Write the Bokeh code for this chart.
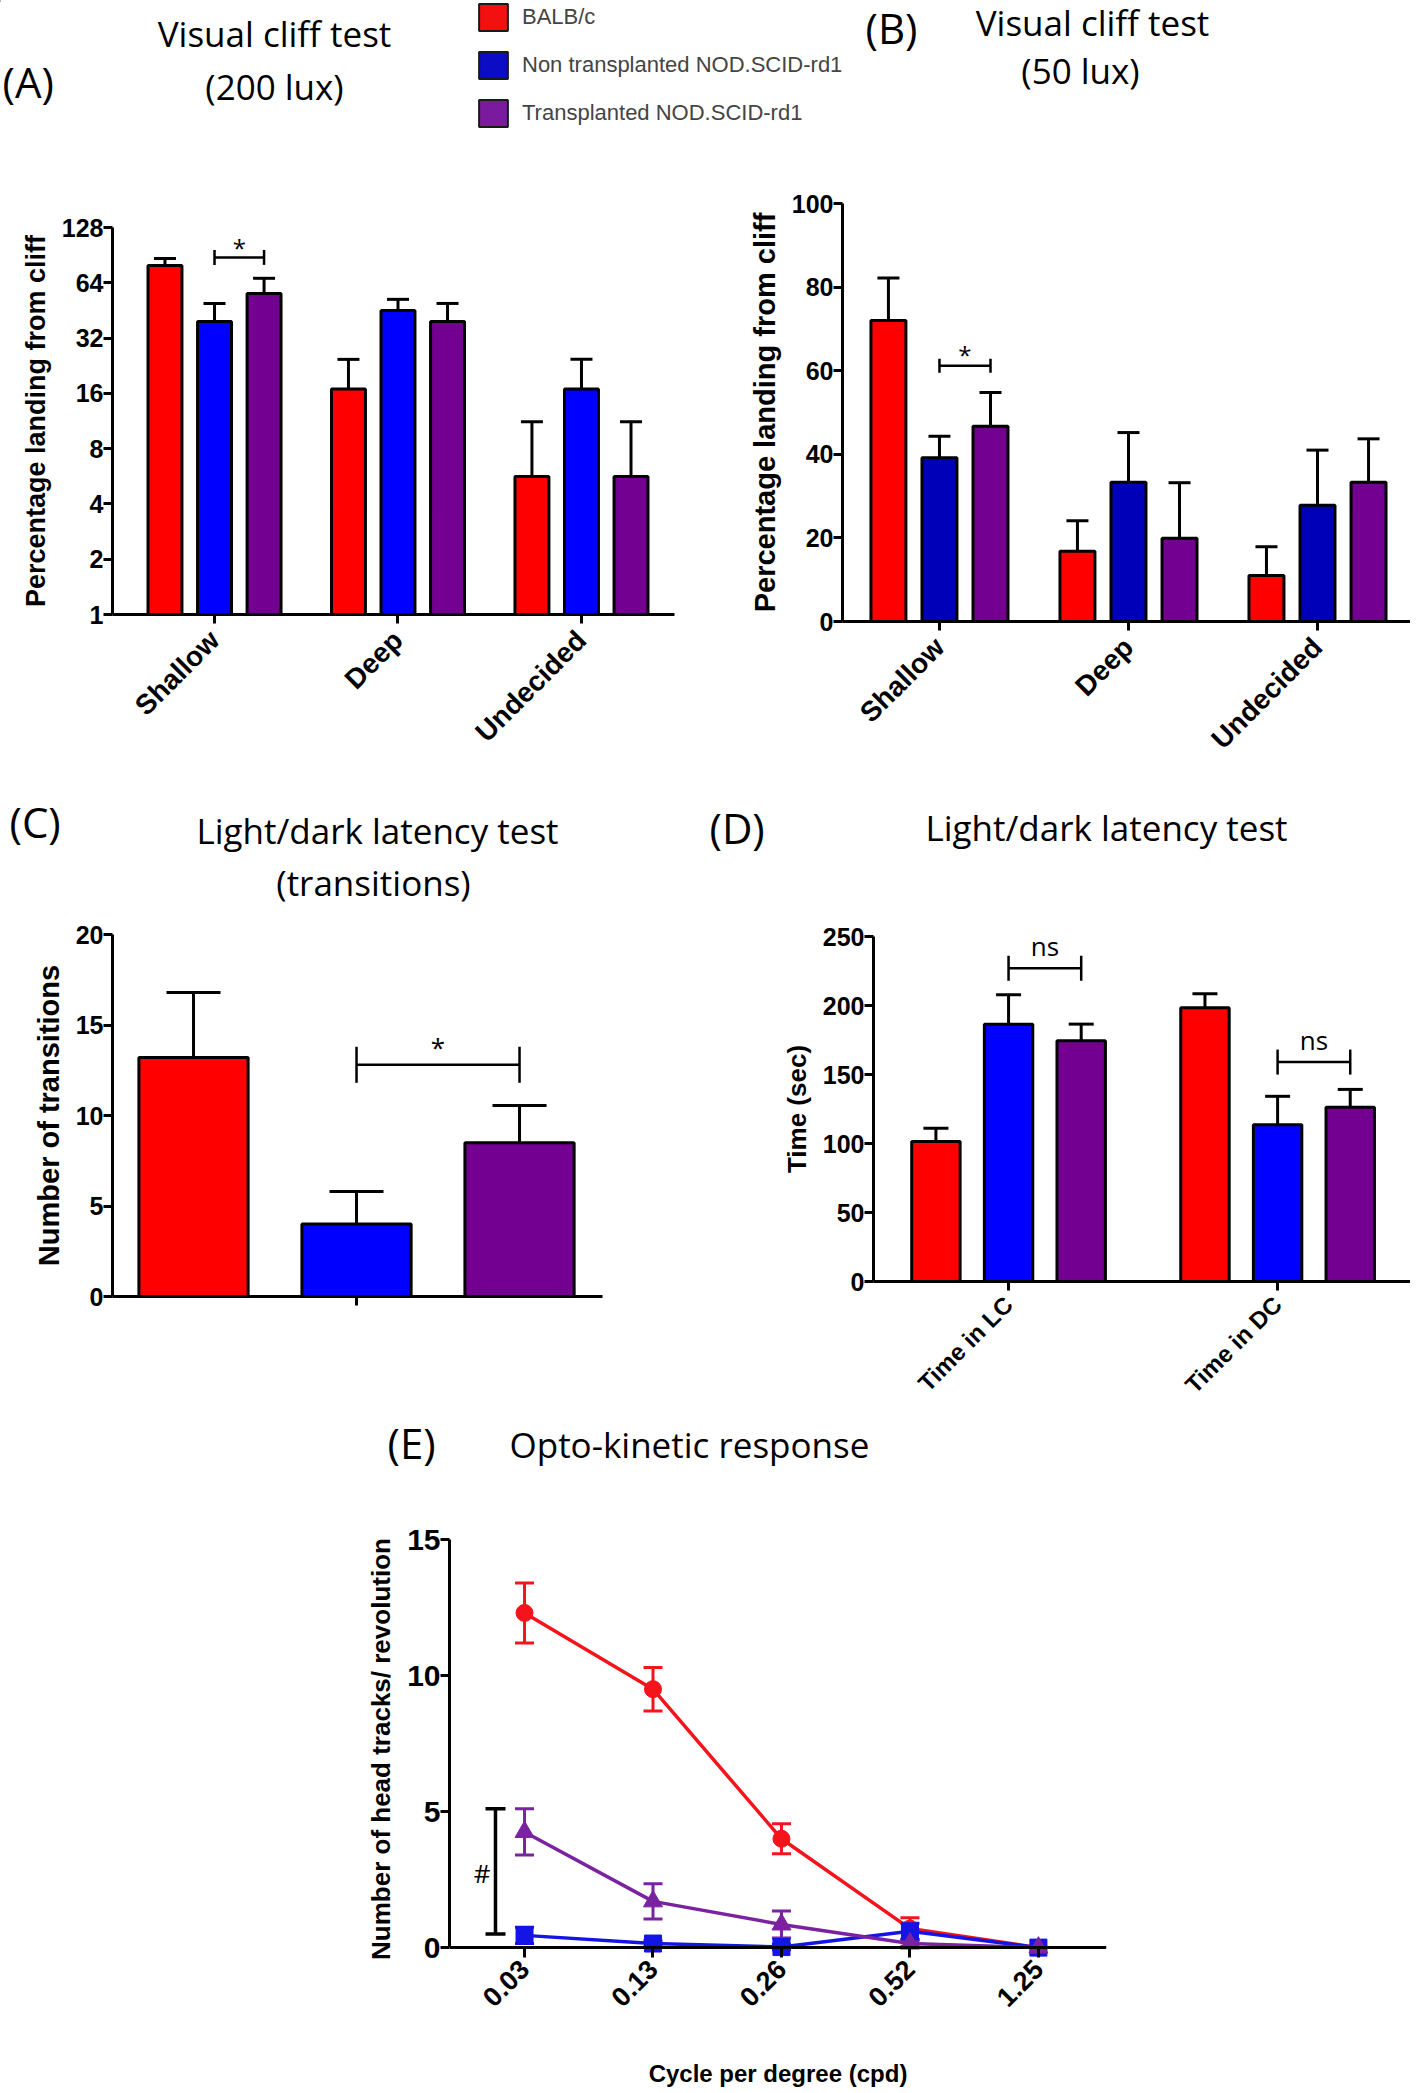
import math
import numpy as np
from bokeh.plotting import figure
from bokeh.models import (Range1d, FixedTicker, Whisker, TeeHead, ColumnDataSource,
                          Label, Legend, LegendItem, BasicTickFormatter, LinearAxis)
from bokeh.layouts import column, row
from bokeh.embed import file_html
from bokeh.resources import INLINE

# ------------------------------------------------------------------ data
groups = ["BALB/c", "Non transplanted NOD.SCID-rd1", "Transplanted NOD.SCID-rd1"]

cliff_cats = ["Shallow", "Deep", "Undecided"]
c200_balb = [79.5, 16.9, 5.65]
c200_balb_sem = [7.3, 7.6, 5.55]
c200_nontx = [39.4, 45.2, 16.9]
c200_nontx_sem = [10.0, 6.8, 7.6]
c200_tx = [56.0, 39.4, 5.65]
c200_tx_sem = [11.7, 10.0, 5.55]
c200_ticks = [1, 2, 4, 8, 16, 32, 64, 128]
c200_sig = [88.0]
c50_balb = [72.0, 16.8, 11.0]
c50_balb_sem = [10.2, 7.3, 6.9]
c50_nontx = [39.2, 33.3, 27.8]
c50_nontx_sem = [5.1, 11.9, 13.2]
c50_tx = [46.7, 19.9, 33.3]
c50_tx_sem = [8.1, 13.3, 10.4]
c50_ticks = [0, 20, 40, 60, 80, 100]
c50_sig = [61.2]
trans_vals = [13.2, 4.0, 8.5]
trans_sem = [3.6, 1.8, 2.05]
trans_ticks = [0, 5, 10, 15, 20]
trans_sig = [12.8]
ld_cats = ["Time in LC", "Time in DC"]
ld_balb = [101.4, 198.3]
ld_balb_sem = [9.6, 10.3]
ld_nontx = [186.5, 113.5]
ld_nontx_sem = [21.2, 20.7]
ld_tx = [174.4, 126.2]
ld_tx_sem = [12.1, 13.0]
ld_ticks = [0, 50, 100, 150, 200, 250]
ld_sig = [227.0, 159.0]
okr_cpd = ["0.03", "0.13", "0.26", "0.52", "1.25"]
okr_balb = [12.3, 9.5, 4.0, 0.7, 0.0]
okr_balb_sem = [1.1, 0.8, 0.55, 0.4, 0.0]
okr_nontx = [0.45, 0.15, 0.02, 0.6, 0.0]
okr_nontx_sem = [0.3, 0.1, 0.1, 0.3, 0.0]
okr_tx = [4.25, 1.7, 0.85, 0.15, 0.0]
okr_tx_sem = [0.85, 0.65, 0.5, 0.1, 0.0]
okr_ticks = [0, 5, 10, 15]
okr_hash = [0.5, 5.1]

# ------------------------------------------------------------------ style
RED = "#ff0000"
BLUE = "#0000ff"
BLUE_B = "#0000b8"
PURPLE = "#730090"
E_RED = "#f5141c"
E_BLUE = "#1414e6"
E_PURPLE = "#7a22a0"
LEGEND_COLORS = ["#f21010", "#0c0cc4", "#7a1a9e"]
TITLE_FONT = "Open Sans"
AX_FONT = "Liberation Sans"
TSIZE = 35
PSIZE = 42


def style_axis(ax):
    ax.axis_line_width = 3
    ax.axis_line_color = "black"
    ax.major_tick_line_width = 3
    ax.major_tick_line_color = "black"
    ax.major_tick_out = 9
    ax.major_tick_in = 0
    ax.minor_tick_line_color = None
    ax.major_label_text_font = AX_FONT
    ax.major_label_text_font_style = "bold"
    ax.major_label_text_color = "black"
    ax.axis_label_text_font = AX_FONT
    ax.axis_label_text_font_style = "bold"
    ax.axis_label_text_color = "black"


def make_fig(canvas, frame, x_range, y_range, y_axis_type="linear"):
    cx0, cy0, cx1, cy1 = canvas
    fx0, fy0, fx1, fy1 = frame
    p = figure(width=cx1 - cx0, height=cy1 - cy0, x_range=x_range, y_range=y_range,
               y_axis_type=y_axis_type, output_backend="svg", toolbar_location=None,
               title=None,
               min_border_left=fx0 - cx0, min_border_right=cx1 - fx1,
               min_border_top=fy0 - cy0, min_border_bottom=cy1 - fy1)
    p.outline_line_color = None
    p.grid.visible = False
    for ax in p.axis:
        style_axis(ax)
    return p


def header(canvas):
    cx0, cy0, cx1, cy1 = canvas
    h = figure(width=cx1 - cx0, height=cy1 - cy0, x_range=Range1d(cx0, cx1),
               y_range=Range1d(cy1, cy0), min_border=0, x_axis_location=None,
               y_axis_location=None, output_backend="svg", toolbar_location=None,
               title=None)
    h.outline_line_color = None
    h.grid.visible = False
    return h


def htext(h, x, y, text, size, align="center"):
    h.add_layout(Label(x=x, y=y, text=text, text_font=TITLE_FONT,
                       text_font_size=f"{size}px", text_align=align,
                       text_baseline="middle", text_color="black"))


def grouped_bars(p, series, sems, colors, offsets, width, bottom, cap):
    for vals, sem, col, off in zip(series, sems, colors, offsets):
        x = np.arange(len(vals)) + off
        v = np.array(vals, dtype=float)
        src = ColumnDataSource(dict(x=x, top=v, upper=v + np.array(sem)))
        p.vbar(x="x", top="top", bottom=bottom, width=width, source=src,
               fill_color=col, line_color="black", line_width=3)
        p.add_layout(Whisker(source=src, base="x", lower="top", upper="upper",
                             dimension="height", line_width=3, line_color="black",
                             upper_head=TeeHead(size=cap, line_width=3, line_color="black"),
                             lower_head=None))


def bracket(p, y, x0, x1, cap, text, ty, size=26):
    src = ColumnDataSource(dict(y=[y], x0=[x0], x1=[x1]))
    p.add_layout(Whisker(source=src, base="y", lower="x0", upper="x1", dimension="width",
                         line_width=2.5, line_color="black",
                         upper_head=TeeHead(size=cap, line_width=2.5, line_color="black"),
                         lower_head=TeeHead(size=cap, line_width=2.5, line_color="black")))
    p.add_layout(Label(x=(x0 + x1) / 2, y=ty, text=text, text_font=TITLE_FONT,
                       text_font_size=f"{size}px", text_align="center",
                       text_baseline="middle", text_color="black"))


OFF = 0.27
BW = 0.185

# ------------------------------------------------------------------ header 1
h1 = header((0, 0, 1410, 150))
htext(h1, 2, 81, "(A)", PSIZE, align="left")
htext(h1, 274, 33, "Visual cliff test", TSIZE)
htext(h1, 274, 86, "(200 lux)", TSIZE)
htext(h1, 865, 27, "(B)", PSIZE, align="left")
htext(h1, 1092, 22, "Visual cliff test", TSIZE)
htext(h1, 1080, 70, "(50 lux)", TSIZE)
# legend: one swatch renderer per group, kept outside the (empty) header frame range
leg_items = []
for name, col in zip(groups, LEGEND_COLORS):
    sw = ColumnDataSource(dict(x=[-5000.0], top=[0.0], group=[name]))
    r = h1.vbar(x="x", top="top", width=1, source=sw, fill_color=col,
                line_color="#1a1a1a", line_width=2)
    leg_items.append(LegendItem(label=name, renderers=[r]))
leg = Legend(items=leg_items, location=(475, 20), orientation="vertical",
             glyph_width=36, glyph_height=34, label_standoff=11, spacing=14,
             padding=0, margin=0, border_line_color=None, background_fill_alpha=0,
             label_text_font=AX_FONT, label_text_font_size="22px",
             label_height=34)
h1.add_layout(leg)

# ------------------------------------------------------------------ (A)
pa = make_fig((0, 150, 709, 785), (112, 227, 674, 614),
              Range1d(-0.556, 2.507), Range1d(1, 128), y_axis_type="log")
grouped_bars(pa, [c200_balb, c200_nontx, c200_tx],
             [c200_balb_sem, c200_nontx_sem, c200_tx_sem],
             [RED, BLUE, PURPLE], [-OFF, 0, OFF], BW, 1, 22)
bracket(pa, c200_sig[0], 0, OFF, 15, "*", c200_sig[0] * 1.13, 24)
pa.yaxis.ticker = FixedTicker(ticks=c200_ticks)
pa.yaxis.formatter = BasicTickFormatter(use_scientific=False)
pa.yaxis.major_label_text_font_size = "25px"
pa.yaxis.major_label_standoff = 0
pa.yaxis.axis_label = "Percentage landing from cliff"
pa.yaxis.axis_label_text_font_size = "27px"
pa.yaxis.axis_label_standoff = 8
pa.xaxis.ticker = FixedTicker(ticks=list(range(len(cliff_cats))))
pa.xaxis.major_label_overrides = {i: c for i, c in enumerate(cliff_cats)}
pa.xaxis.major_label_orientation = math.pi / 4
pa.xaxis.major_label_text_font_size = "28px"
pa.xaxis.major_label_standoff = 12

# ------------------------------------------------------------------ (B)
pb = make_fig((709, 150, 1410, 785), (842, 203, 1410, 621),
              Range1d(-0.513, 2.492), Range1d(0, 100))
grouped_bars(pb, [c50_balb, c50_nontx, c50_tx],
             [c50_balb_sem, c50_nontx_sem, c50_tx_sem],
             [RED, BLUE_B, PURPLE], [-OFF, 0, OFF], BW, 0, 22)
bracket(pb, c50_sig[0], 0, OFF, 14, "*", c50_sig[0] + 2.6, 24)
pb.yaxis.ticker = FixedTicker(ticks=c50_ticks)
pb.yaxis.major_label_text_font_size = "25px"
pb.yaxis.major_label_standoff = 0
pb.yaxis.axis_label = "Percentage landing from cliff"
pb.yaxis.axis_label_text_font_size = "29px"
pb.yaxis.axis_label_standoff = 8
pb.xaxis.ticker = FixedTicker(ticks=list(range(len(cliff_cats))))
pb.xaxis.major_label_overrides = {i: c for i, c in enumerate(cliff_cats)}
pb.xaxis.major_label_orientation = math.pi / 4
pb.xaxis.major_label_text_font_size = "28px"
pb.xaxis.major_label_standoff = 12

# ------------------------------------------------------------------ header 2
h2 = header((0, 785, 1410, 905))
htext(h2, 9, 821, "(C)", PSIZE, align="left")
htext(h2, 377, 830, "Light/dark latency test", TSIZE)
htext(h2, 373, 882, "(transitions)", TSIZE)
htext(h2, 709, 827, "(D)", PSIZE, align="left")
htext(h2, 1106, 827, "Light/dark latency test", TSIZE)

# ------------------------------------------------------------------ (C)
pc = make_fig((0, 905, 709, 1410), (112, 934, 602, 1296),
              Range1d(-1.497, 1.509), Range1d(0, 20))
for i, (v, s, col) in enumerate(zip(trans_vals, trans_sem, [RED, BLUE, PURPLE])):
    grouped_bars(pc, [[v]], [[s]], [col], [i - 1], 0.67, 0, 54)
bracket(pc, trans_sig[0], 0, 1, 36, "*", trans_sig[0] + 1.0, 26)
pc.yaxis.ticker = FixedTicker(ticks=trans_ticks)
pc.yaxis.major_label_text_font_size = "25px"
pc.yaxis.major_label_standoff = 0
pc.yaxis.axis_label = "Number of transitions"
pc.yaxis.axis_label_text_font_size = "29px"
pc.yaxis.axis_label_standoff = 8
pc.xaxis.ticker = FixedTicker(ticks=[0])
pc.xaxis.major_label_overrides = {0: ""}

# ------------------------------------------------------------------ (D)
pd_ = make_fig((709, 905, 1410, 1410), (873, 936, 1410, 1281),
               Range1d(-0.502, 1.494), Range1d(0, 250))
grouped_bars(pd_, [ld_balb, ld_nontx, ld_tx], [ld_balb_sem, ld_nontx_sem, ld_tx_sem],
             [RED, BLUE, PURPLE], [-OFF, 0, OFF], 0.18, 0, 25)
for i, y in enumerate(ld_sig):
    bracket(pd_, y, i, i + OFF, 25, "ns", y + 16, 26)
pd_.yaxis.ticker = FixedTicker(ticks=ld_ticks)
pd_.yaxis.major_label_text_font_size = "25px"
pd_.yaxis.major_label_standoff = 0
pd_.yaxis.axis_label = "Time (sec)"
pd_.yaxis.axis_label_text_font_size = "26px"
pd_.yaxis.axis_label_standoff = 8
pd_.xaxis.ticker = FixedTicker(ticks=list(range(len(ld_cats))))
pd_.xaxis.major_label_overrides = {i: c for i, c in enumerate(ld_cats)}
pd_.xaxis.major_label_orientation = math.pi / 4
pd_.xaxis.major_label_text_font_size = "24px"
pd_.xaxis.major_label_standoff = 10

# ------------------------------------------------------------------ header 3
h3 = header((0, 1410, 1410, 1470))
htext(h3, 387, 1442, "(E)", PSIZE, align="left")
htext(h3, 509, 1444, "Opto-kinetic response", TSIZE, align="left")

# ------------------------------------------------------------------ (E)
pe = make_fig((0, 1470, 1410, 2091), (449, 1539, 1106, 1958),
              Range1d(-0.584, 4.53), Range1d(-0.4, 15))
xs = np.arange(len(okr_cpd))
for vals, sem, col, marker, size in [
        (okr_balb, okr_balb_sem, E_RED, "circle", 17),
        (okr_nontx, okr_nontx_sem, E_BLUE, "square", 17),
        (okr_tx, okr_tx_sem, E_PURPLE, "triangle", 19)]:
    v = np.array(vals, dtype=float)
    s = np.array(sem, dtype=float)
    src = ColumnDataSource(dict(x=xs, y=v, lo=v - s, hi=v + s))
    pe.line("x", "y", source=src, line_color=col, line_width=3.5)
    pe.scatter("x", "y", source=src, marker=marker, size=size, fill_color=col, line_color=col)
    pe.add_layout(Whisker(source=src, base="x", lower="lo", upper="hi", dimension="height",
                          line_color=col, line_width=3,
                          upper_head=TeeHead(size=19, line_color=col, line_width=3),
                          lower_head=TeeHead(size=19, line_color=col, line_width=3)))
hash_src = ColumnDataSource(dict(x=[-0.226], lo=[okr_hash[0]], hi=[okr_hash[1]]))
pe.add_layout(Whisker(source=hash_src, base="x", lower="lo", upper="hi", dimension="height",
                      line_color="black", line_width=3.5,
                      upper_head=TeeHead(size=20, line_color="black", line_width=3.5),
                      lower_head=TeeHead(size=20, line_color="black", line_width=3.5)))
pe.add_layout(Label(x=-0.33, y=(okr_hash[0] + okr_hash[1]) / 2 - 0.05, text="#",
                    text_font=TITLE_FONT, text_font_size="26px", text_align="center",
                    text_baseline="middle", text_color="black"))
pe.yaxis.ticker = FixedTicker(ticks=okr_ticks)
pe.yaxis.bounds = (0, 15)
pe.yaxis.major_label_text_font_size = "30px"
pe.yaxis.major_label_standoff = 0
pe.yaxis.axis_label = "Number of head tracks/ revolution"
pe.yaxis.axis_label_text_font_size = "26px"
pe.yaxis.axis_label_standoff = 8
pe.xaxis.ticker = FixedTicker(ticks=list(range(len(okr_cpd))))
pe.xaxis.major_label_overrides = {i: c for i, c in enumerate(okr_cpd)}
pe.xaxis.major_label_orientation = math.pi / 4
pe.xaxis.major_label_text_font_size = "27px"
pe.xaxis.major_label_standoff = 6
pe.xaxis.axis_line_color = None
pe.xaxis.major_tick_line_color = None
pe.xaxis.major_tick_out = 0
pe.xaxis.axis_label = "Cycle per degree (cpd)"
pe.xaxis.axis_label_text_font_size = "24px"
pe.xaxis.axis_label_standoff = 42
zero_axis = LinearAxis(fixed_location=0, ticker=FixedTicker(ticks=list(range(len(okr_cpd)))),
                       major_label_overrides={i: "" for i in range(len(okr_cpd))})
style_axis(zero_axis)
zero_axis.major_tick_in = 10
zero_axis.major_tick_out = 0
zero_axis.major_label_text_font_size = "1px"
pe.add_layout(zero_axis, "above")


def solo(p):
    return column(p)


layout = column(solo(h1), row(solo(pa), solo(pb)), solo(h2), row(solo(pc), solo(pd_)),
                solo(h3), solo(pe))
open("out.html", "w").write(file_html(layout, INLINE))
